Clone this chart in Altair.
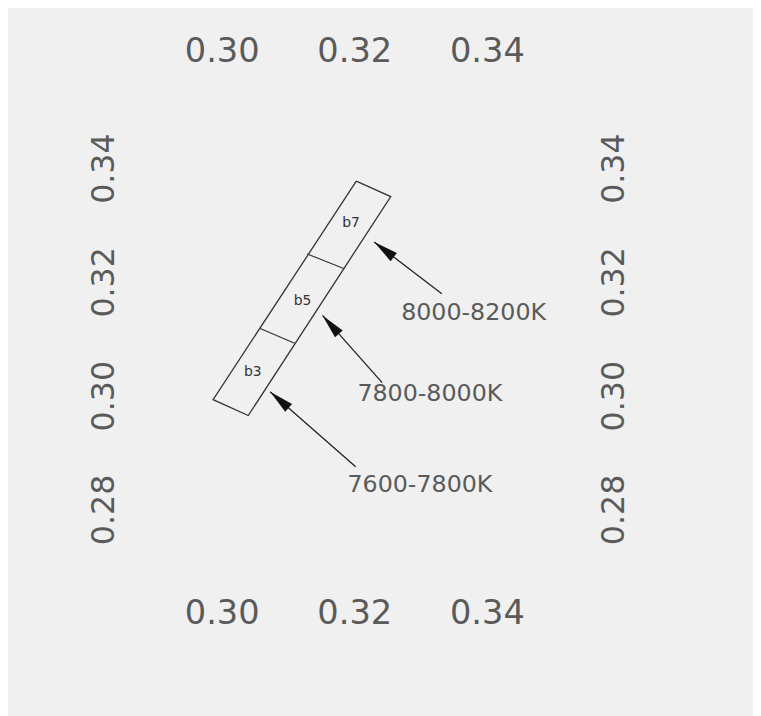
import math
import altair as alt
import pandas as pd

# ---- data (chromaticity x, y) ----
x_ticks = [0.30, 0.32, 0.34]
y_ticks = [0.28, 0.30, 0.32, 0.34]

# outline of the quadrilateral (TL, TR, BR, BL)
box_x = [0.3203, 0.3255, 0.3040, 0.2987]
box_y = [0.3377, 0.3350, 0.2965, 0.2993]

# dividing lines between bins
div_x1 = [0.3129, 0.3058]
div_y1 = [0.3249, 0.3118]
div_x2 = [0.3185, 0.3110]
div_y2 = [0.3223, 0.3092]

bin_names = ["b7", "b5", "b3"]
bin_x = [0.3195, 0.3122, 0.3047]
bin_y = [0.3303, 0.3167, 0.3042]

range_labels = ["8000-8200K", "7800-8000K", "7600-7800K"]
label_x = [0.3380, 0.3314, 0.3299]
label_y = [0.3146, 0.3002, 0.2842]

tip_x = [0.3230, 0.3152, 0.3073]
tip_y = [0.3270, 0.3141, 0.3007]
tail_x = [0.3332, 0.3242, 0.3202]
tail_y = [0.3179, 0.3023, 0.2875]

# ---- layout ----
W, H = 455, 515
PAD = {"left": 132, "top": 67, "right": 166, "bottom": 126}
XMIN, XMAX = 0.28746, 0.35537
YMIN, YMAX = 0.26626, 0.35583
kx = W / (XMAX - XMIN)
ky = H / (YMAX - YMIN)

INK = "#333333"
LABEL = "#5a5a5a"

xs = alt.Scale(domain=[XMIN, XMAX], nice=False, zero=False)
ys = alt.Scale(domain=[YMIN, YMAX], nice=False, zero=False)


def x_axis(orient, pad):
    return alt.Axis(orient=orient, values=x_ticks, format=".2f", domain=False,
                    ticks=False, grid=False, labelFontSize=34, labelColor=LABEL,
                    labelPadding=pad, labelFont="DejaVu Sans", labelOverlap=False)


def y_axis(orient, pad):
    return alt.Axis(orient=orient, values=y_ticks, format=".2f", domain=False,
                    ticks=False, grid=False, labelFontSize=32, labelColor=LABEL,
                    labelPadding=pad, labelAngle=270, labelFont="DejaVu Sans",
                    labelOverlap=False)


box_df = pd.DataFrame({
    "x": box_x + [box_x[0]],
    "y": box_y + [box_y[0]],
    "o": list(range(len(box_x) + 1)),
})
div_df = pd.DataFrame({"x": div_x1, "y": div_y1, "x2": div_x2, "y2": div_y2})
bin_df = pd.DataFrame({"x": bin_x, "y": bin_y, "t": bin_names})
lab_df = pd.DataFrame({"x": label_x, "y": label_y, "t": range_labels})

angles = []
for tx, ty, sx, sy in zip(tip_x, tip_y, tail_x, tail_y):
    dx = (tx - sx) * kx
    dy = -(ty - sy) * ky
    angles.append(math.degrees(math.atan2(dx, -dy)) % 360)
arr_df = pd.DataFrame({"x": tail_x, "y": tail_y, "x2": tip_x, "y2": tip_y,
                       "tx": tip_x, "ty": tip_y, "a": angles})

box = alt.Chart(box_df).mark_line(color=INK, strokeWidth=1.3).encode(
    x=alt.X("x:Q", scale=xs, axis=x_axis("bottom", 9), title=None),
    y=alt.Y("y:Q", scale=ys, axis=y_axis("left", 18), title=None),
    order="o:Q",
)

dividers = alt.Chart(div_df).mark_rule(color=INK, strokeWidth=1.2).encode(
    x=alt.X("x:Q", scale=xs, axis=x_axis("top", 10), title=None),
    y=alt.Y("y:Q", scale=ys, axis=y_axis("right", 10), title=None),
    x2="x2:Q", y2="y2:Q",
)

shafts = alt.Chart(arr_df).mark_rule(color="#222222", strokeWidth=1.3).encode(
    x=alt.X("x:Q", scale=xs, axis=None),
    y=alt.Y("y:Q", scale=ys, axis=None),
    x2="x2:Q", y2="y2:Q",
)

heads = alt.Chart(arr_df).mark_point(
    shape="M0,0L-0.42,2L0.42,2Z", filled=True, color="#111111", size=620,
    strokeWidth=0, opacity=1,
).encode(
    x=alt.X("tx:Q", scale=xs, axis=None),
    y=alt.Y("ty:Q", scale=ys, axis=None),
    angle=alt.Angle("a:Q", scale=None),
)

bins = alt.Chart(bin_df).mark_text(fontSize=14, color=INK, font="DejaVu Sans").encode(
    x=alt.X("x:Q", scale=xs, axis=None),
    y=alt.Y("y:Q", scale=ys, axis=None),
    text="t:N",
)

labels = alt.Chart(lab_df).mark_text(fontSize=24, color=LABEL, font="DejaVu Sans").encode(
    x=alt.X("x:Q", scale=xs, axis=None),
    y=alt.Y("y:Q", scale=ys, axis=None),
    text="t:N",
)

chart = alt.layer(box, dividers, shafts, heads, bins, labels).resolve_axis(
    x="independent", y="independent"
).properties(
    width=W, height=H, padding=PAD,
    autosize=alt.AutoSizeParams(type="none"),
    background="#f0f0f0",
).configure_view(stroke=None)

chart.save("out.html", embed_options={"renderer": "svg", "actions": False})
